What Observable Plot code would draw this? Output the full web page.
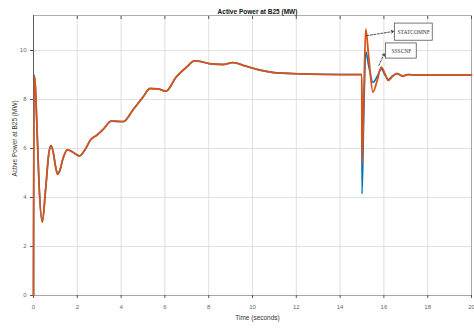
<!DOCTYPE html>
<html>
<head>
<meta charset="utf-8">
<script src="https://cdn.jsdelivr.net/npm/d3@7"></script>
<script src="https://cdn.jsdelivr.net/npm/@observablehq/plot@0.6"></script>
<style>
  html, body { margin: 0; padding: 0; background: #fff; }
  #chart svg { display: block; }
</style>
</head>
<body>
<div id="chart"></div>
<script>
// ---- data ----
const timeSeconds = [0, 0.02, 0.08, 0.15, 0.25, 0.4, 0.55, 0.7, 0.8, 0.9, 1.0, 1.1, 1.2, 1.35, 1.55, 1.8, 2.1, 2.35, 2.6, 2.9, 3.2, 3.55, 4.1, 4.56, 5.0, 5.32, 5.7, 6.05, 6.5, 7.0, 7.35, 7.6, 8.05, 8.65, 9.1, 9.7, 10.3, 10.9, 12.1, 14.0, 14.99, 15.0, 15.08, 15.17, 15.3, 15.5, 15.7, 15.88, 16.05, 16.2, 16.4, 16.6, 16.85, 17.1, 17.5, 20];
const statcomPower = [0, 9.0, 8.6, 7.1, 4.6, 3.0, 4.3, 5.8, 6.12, 5.85, 5.3, 4.95, 5.1, 5.6, 5.95, 5.85, 5.7, 5.95, 6.35, 6.55, 6.8, 7.12, 7.1, 7.6, 8.1, 8.45, 8.43, 8.34, 8.9, 9.33, 9.58, 9.56, 9.46, 9.43, 9.51, 9.36, 9.21, 9.11, 9.05, 9.02, 9.02, 5.4, 8.0, 10.88, 9.8, 8.3, 8.8, 9.32, 9.05, 8.78, 8.95, 9.07, 8.95, 9.02, 9.0, 9.0];
const sssscPower  = [0, 9.0, 8.6, 7.1, 4.6, 3.0, 4.3, 5.8, 6.12, 5.85, 5.3, 4.95, 5.1, 5.6, 5.95, 5.85, 5.7, 5.95, 6.35, 6.55, 6.8, 7.12, 7.1, 7.6, 8.1, 8.45, 8.43, 8.34, 8.9, 9.33, 9.58, 9.56, 9.46, 9.43, 9.51, 9.36, 9.21, 9.11, 9.05, 9.02, 9.02, 4.15, 7.3, 9.95, 9.4, 8.7, 8.95, 9.25, 9.0, 8.82, 8.97, 9.05, 8.97, 9.02, 9.0, 9.0];
const xTicks = [0, 2, 4, 6, 8, 10, 12, 14, 16, 18, 20];
const yTicks = [0, 2, 4, 6, 8, 10];

const annotationLabels = ["STATCOMNF", "SSSCNF"];
const labelT = [17.36, 16.8];
const labelP = [10.75, 9.98];
const boxT1 = [16.5, 16.1], boxT2 = [18.23, 17.5];
const boxP1 = [10.4, 9.67], boxP2 = [11.1, 10.29];
const arrowFromT = [15.23, 15.77], arrowFromP = [10.61, 9.39];
const arrowToT = [16.45, 16.02], arrowToP = [10.78, 9.88];

const titleText = "Active Power at B25 (MW)";
const xLabel = "Time (seconds)";
const yLabel = "Active Power at B25 (MW)";

// ---- tables built from arrays ----
const blue = timeSeconds.map((t, i) => ({t, p: sssscPower[i]}));
const orange = timeSeconds.map((t, i) => ({t, p: statcomPower[i]}));
const notes = annotationLabels.map((label, i) => ({
  label, t: labelT[i], p: labelP[i],
  x1: boxT1[i], x2: boxT2[i], y1: boxP1[i], y2: boxP2[i],
  ax1: arrowFromT[i], ay1: arrowFromP[i], ax2: arrowToT[i], ay2: arrowToP[i]
}));

const chart = Plot.plot({
  width: 474,
  height: 329,
  marginLeft: 33,
  marginRight: 3,
  marginTop: 15,
  marginBottom: 34,
  style: {fontFamily: "Liberation Sans, Arial, sans-serif", background: "#fff"},
  x: {domain: [0, 20]},
  y: {domain: [0, 11.43]},
  marks: [
    Plot.gridX(xTicks, {stroke: "#d8d8d8", strokeOpacity: 1, strokeWidth: 0.8}),
    Plot.gridY(yTicks, {stroke: "#d8d8d8", strokeOpacity: 1, strokeWidth: 0.8}),
    Plot.frame({stroke: "#9a9a9a", strokeWidth: 0.8}),
    Plot.axisX(xTicks, {tickSize: 3, tickPadding: 6, fontSize: 6, fill: "#666", stroke: "#555", label: null}),
    Plot.axisX(xTicks, {anchor: "top", tickSize: -3, label: null, text: null, stroke: "#555"}),
    Plot.axisY(yTicks, {tickSize: 3, tickPadding: 4, fontSize: 6, fill: "#666", stroke: "#555", label: null}),
    Plot.ruleX([0], {stroke: "#555", strokeWidth: 0.9}),
    Plot.line(blue, {x: "t", y: "p", stroke: "#0072BD", strokeWidth: 1.6, curve: "monotone-x"}),
    Plot.line(orange, {x: "t", y: "p", stroke: "#D95319", strokeWidth: 1.8, curve: "monotone-x"}),
    Plot.arrow(notes, {x1: "ax1", y1: "ay1", x2: "ax2", y2: "ay2", stroke: "#222", strokeWidth: 0.8, strokeDasharray: "2,1.5", headLength: 5, bend: 0}),
    Plot.rect(notes, {x1: "x1", x2: "x2", y1: "y1", y2: "y2", fill: "#fff", stroke: "#555", strokeWidth: 0.8}),
    Plot.text(notes, {x: "t", y: "p", text: "label", fontSize: 5.5, fill: "#333", fontFamily: "Liberation Serif, serif"}),
    Plot.text([titleText], {frameAnchor: "top", dx: 5, dy: -6, fontSize: 6.5, fontWeight: "bold", fill: "#111"}),
    Plot.text([xLabel], {frameAnchor: "bottom", dx: 5, dy: 24, fontSize: 6.5, fill: "#333"}),
    Plot.text([yLabel], {frameAnchor: "left", dx: -19, dy: 21, rotate: -90, fontSize: 6.5, fill: "#333"})
  ]
});
document.getElementById("chart").appendChild(chart);
</script>
</body>
</html>
